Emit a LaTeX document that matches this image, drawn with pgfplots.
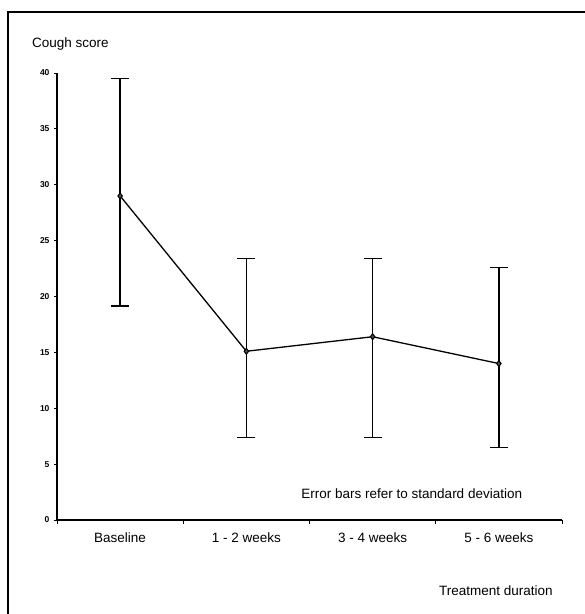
\documentclass[border=0pt]{standalone}
\usepackage{pgfplots}
\pgfplotsset{compat=1.18}
\usepackage{fontspec}
\setmainfont{Liberation Sans}
\begin{document}
\begin{tikzpicture}[x=1pt,y=1pt]
\useasboundingbox (0,0) rectangle (585,614);
% frame of the scanned figure
\draw[line width=1.8pt] (8,0) -- (8,602) -- (585,602);
\begin{axis}[
  at={(57pt,94pt)}, anchor=south west,
  scale only axis, width=505pt, height=447pt,
  xmin=-0.5, xmax=3.5, ymin=0, ymax=40,
  axis lines*=left,
  axis line style={line width=1.1pt},
  tick align=outside,
  xtick={0,1,2,3},
  xticklabels={Baseline, 1 - 2 weeks, 3 - 4 weeks, 5 - 6 weeks},
  every major x tick/.style={draw=none},
  minor xtick={-0.5,0.5,1.5,2.5,3.5},
  minor tick length=4pt,
  every minor x tick/.style={black, line width=0.9pt},
  ytick={0,5,...,40},
  major tick length=3pt,
  every major y tick/.style={black, line width=0.8pt},
  yticklabel style={font=\fontsize{8.5}{10}\selectfont\bfseries, xshift=-1pt},
  xticklabel style={font=\fontsize{13.5}{16}\selectfont, yshift=-6pt},
  /pgf/number format/assume math mode=true,
  clip=false,
]
\addplot[black, line width=1.3pt, mark=diamond*, mark size=3pt,
  mark options={fill=black!70, line width=1pt},
  error bars/.cd, y dir=both, y explicit,
  error bar style={line width=1.4pt},
  error mark=-,
  error mark options={rotate=90, line width=1.4pt, mark size=9pt}]
coordinates {
  (0,29.0) += (0,10.5) -= (0,9.85)
  (1,15.1) += (0,8.3) -= (0,7.7)
  (2,16.4) += (0,7.0) -= (0,9.0)
  (3,14.0) += (0,8.6) -= (0,7.5)
};
\node[font=\fontsize{13.5}{16}\selectfont] at (axis cs:2.31,2.4) {Error bars refer to standard deviation};
\end{axis}
\node[anchor=west, font=\fontsize{13.5}{16}\selectfont, inner sep=0pt] at (32,570) {Cough score};
\node[anchor=west, font=\fontsize{13.5}{16}\selectfont, inner sep=0pt] at (439,23) {Treatment duration};
\end{tikzpicture}
\end{document}
